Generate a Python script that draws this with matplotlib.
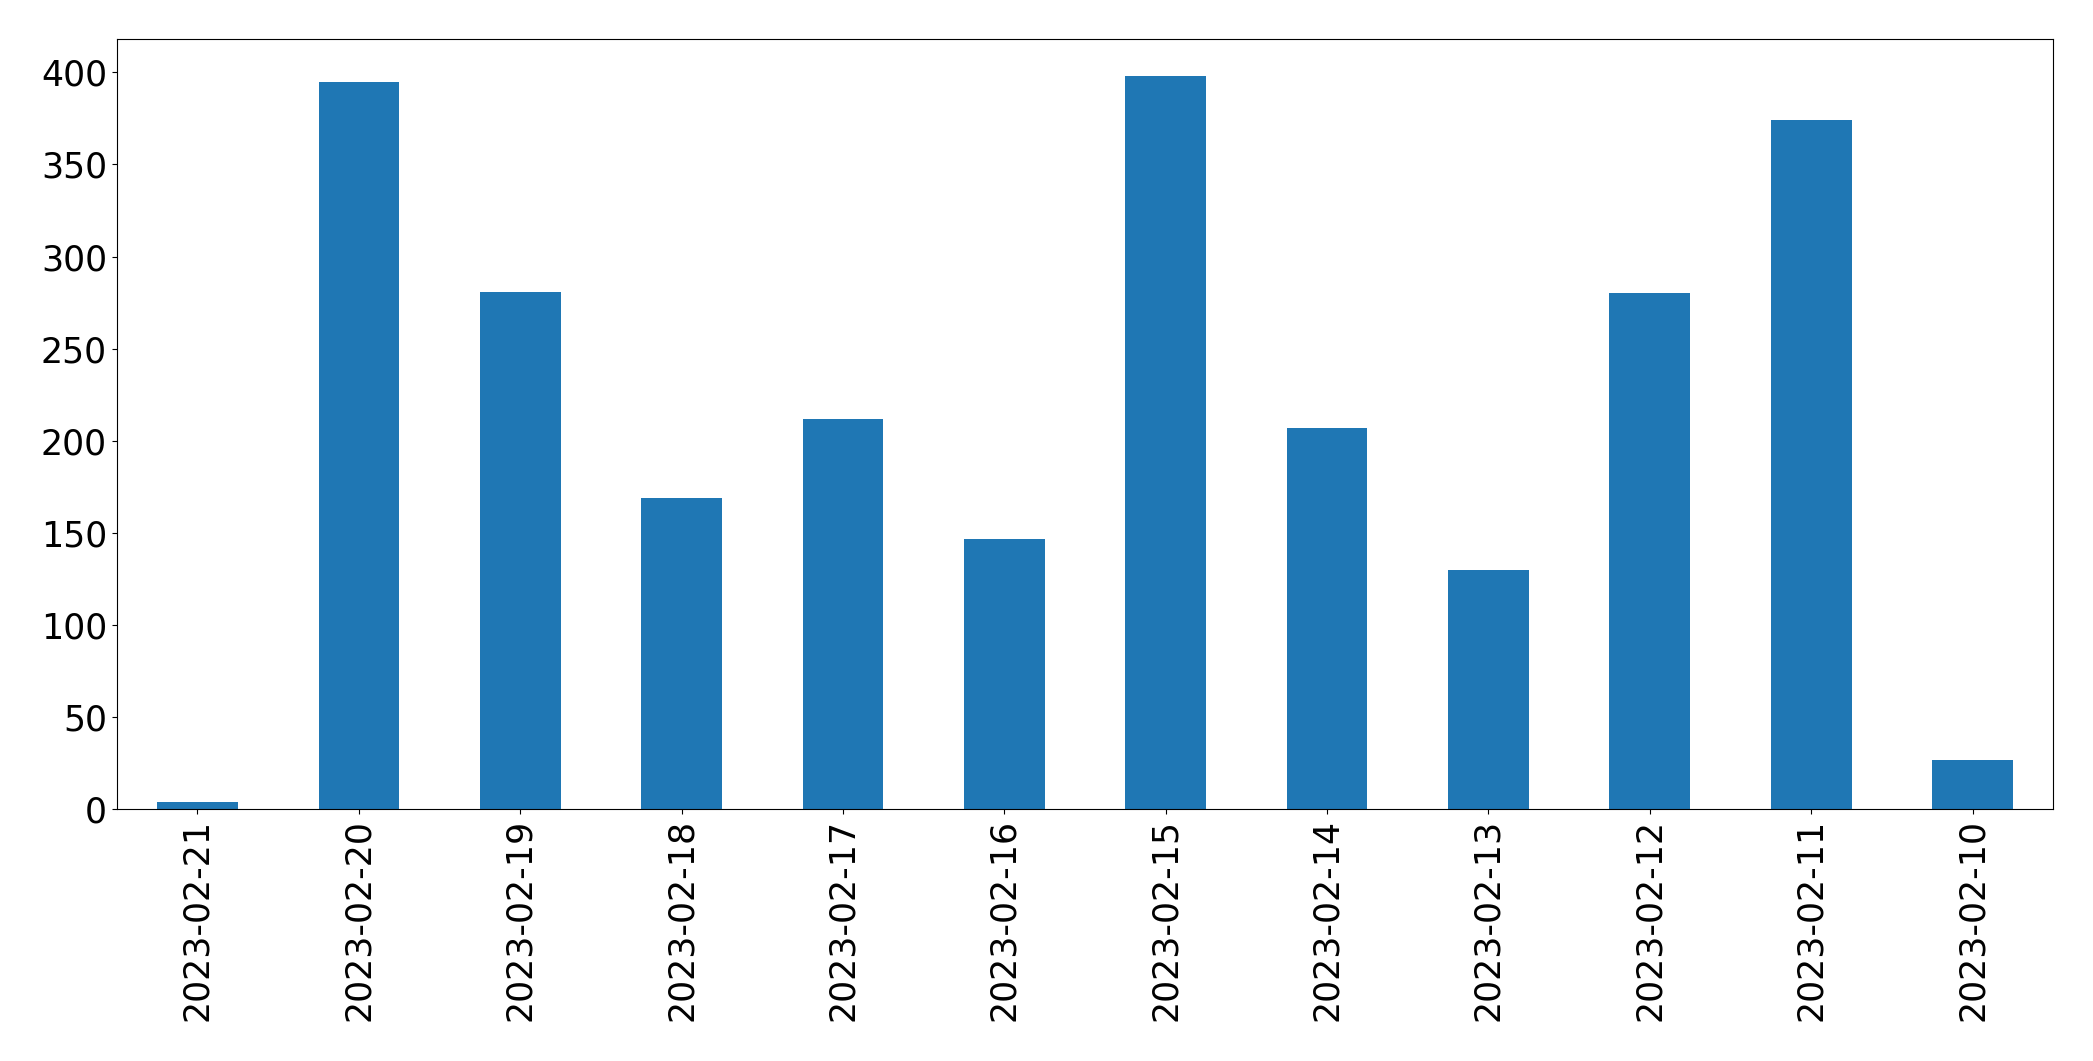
import matplotlib
matplotlib.use('Agg')
import matplotlib.pyplot as plt
import pandas as pd

dates = ['2023-02-21', '2023-02-20', '2023-02-19', '2023-02-18', '2023-02-17', '2023-02-16',
         '2023-02-15', '2023-02-14', '2023-02-13', '2023-02-12', '2023-02-11', '2023-02-10']
counts = [4, 395, 281, 169, 212, 147, 398, 207, 130, 280, 374, 27]

series = pd.Series(counts, index=dates)

fig = plt.figure(figsize=(20.93, 10.61), dpi=100)
ax = fig.add_axes([0.0558, 0.2371, 0.9252, 0.7258])
series.plot(kind='bar', ax=ax, fontsize=25)

fig.savefig('out.png', dpi=100)
